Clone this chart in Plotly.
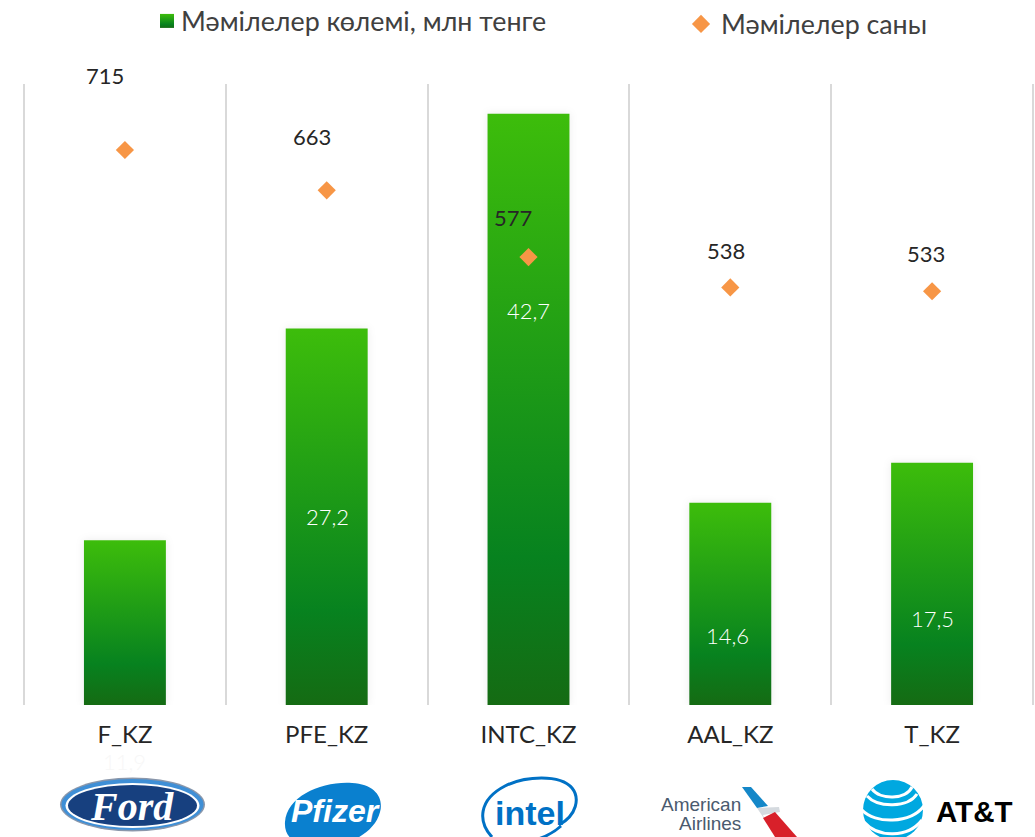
import plotly.graph_objects as go

categories = ["F_KZ", "PFE_KZ", "INTC_KZ", "AAL_KZ", "T_KZ"]
volume = [11.9, 27.2, 42.7, 14.6, 17.5]
deals = [715, 663, 577, 538, 533]
volume_labels = ["11,9", "27,2", "42,7", "14,6", "17,5"]
volume_label_px = [761, 516, 310, 635, 618]
volume_label_dx = [0, 1, 0, -3, 0]
deal_label_shift = [(-20, 74), (-15, 54), (-16, 40), (-4, 37), (-6, 38)]

W, H = 1035, 837
L, R, T, B = 22, 0, 84, 132
PW, PH = W - L - R, H - T - B
FONT = "Lato, 'Noto Sans', sans-serif"
TXT = "#262626"


def px(x):
    return (x - L) / PW


def py(y):
    return (H - B - y) / PH


def path(s):
    out = []
    for tok in s.split():
        if tok[0].isalpha():
            out.append(tok)
        else:
            a, b = tok.split(",")
            out.append(f"{px(float(a)):.5f},{py(float(b)):.5f}")
    return " ".join(out)


def shape_path(s, fill=None, line=None, w=0):
    return dict(type="path", xref="paper", yref="paper", path=path(s), fillcolor=fill or "rgba(0,0,0,0)",
                line=dict(color=line or "rgba(0,0,0,0)", width=w), layer="above")


def ellipse(cx, cy, rx, ry, fill=None, line=None, w=0):
    return dict(type="circle", xref="paper", yref="paper", x0=px(cx - rx), x1=px(cx + rx), y0=py(cy + ry), y1=py(cy - ry),
                fillcolor=fill or "rgba(0,0,0,0)", line=dict(color=line or "rgba(0,0,0,0)", width=w), layer="above")


def text_px(x, y, s, size, color, family=FONT, bold=False, italic=False, anchor="center"):
    t = s
    if bold:
        t = f"<b>{t}</b>"
    if italic:
        t = f"<i>{t}</i>"
    return dict(xref="paper", yref="paper", x=px(x), y=py(y), text=t, showarrow=False, xanchor=anchor, yanchor="middle",
                font=dict(size=size, color=color, family=family), align="left")


fig = go.Figure()
fig.add_bar(x=categories, y=volume, name="Мәмілелер көлемі, млн тенге", marker=dict(color="#2a9d12", line_width=0), yaxis="y", hoverinfo="skip", legend="legend", showlegend=True)
fig.add_scatter(x=categories, y=deals, name="Мәмілелер саны", mode="markers", yaxis="y2", hoverinfo="skip", legend="legend2", showlegend=True,
                marker=dict(symbol="diamond", size=14, color="#f79646"))

ann = []
for c, v, s, dx in zip(categories, volume_labels, volume_label_px, volume_label_dx):
    col = "#f7f7f7" if c == "F_KZ" else "#ffffff"
    ann.append(dict(xref="x", yref="paper", x=c, y=py(s), xshift=dx, text=v, showarrow=False, yanchor="middle",
                    font=dict(size=22, color=col, family="Lato Light, Lato, sans-serif")))
for c, v, (dx, dy) in zip(categories, deals, deal_label_shift):
    ann.append(dict(xref="x", yref="y2", x=c, y=v, xshift=dx, yshift=dy, text=str(v), showarrow=False, yanchor="middle",
                    font=dict(size=22, color=TXT, family=FONT)))

shapes = []
# Ford logo
shapes += [ellipse(132.5, 804.5, 72.5, 27, "#8a97ab"), ellipse(132.5, 804.5, 71, 25.5, "#3f8fd6"),
           ellipse(132.5, 805.5, 67, 22.5, "#ffffff"), ellipse(132.5, 805.5, 64.5, 20.5, "#17407f")]
ann.append(text_px(132, 806, "Ford", 40, "#ffffff", "Liberation Serif", True, True))
# Pfizer logo
shapes.append(shape_path("M 285,822 C 287,796 322,781 352,783 C 375,784 384,798 380,812 C 374,836 340,850 312,847 C 294,845 284,836 285,822 Z", "#0a80cf"))
ann.append(text_px(335, 811, "Pfizer", 32, "#ffffff", "Liberation Sans", True, True))
# Intel logo
shapes.append(shape_path("M 492,837 C 478,822 478,800 505,786 C 525,776 560,774 572,788 C 580,798 577,815 559,825", None, "#0071c5", 3))
shapes.append(shape_path("M 514,845 C 530,842 548,838 561,826", None, "#0071c5", 3))
ann.append(text_px(530, 813, "intel", 34, "#0071c5", "Liberation Sans", True))
# American Airlines logo
ann.append(text_px(743, 804, "American", 19, "#4a5a6e", "Liberation Sans", False, False, "right"))
ann.append(text_px(743, 823, "Airlines", 19, "#4a5a6e", "Liberation Sans", False, False, "right"))
shapes.append(shape_path("M 742,787 L 751,787 L 768,806 L 757,808 Z", "#1487c8"))
shapes.append(shape_path("M 757,808 L 779,807 L 780,812 L 763,815 L 765,820 Z", "#d5dadf"))
shapes.append(shape_path("M 763,818 L 775,812 L 797,837 L 775,837 Z", "#d8202a"))
# AT&T logo
shapes.append(ellipse(893, 810, 30, 30, "#00a8e0"))
for s in ["M 867,796 C 878,808 908,808 917,794", "M 862,810 C 875,824 910,824 924,806",
          "M 864,822 C 878,838 908,838 922,820", "M 872,789 C 880,800 906,800 912,787"]:
    shapes.append(shape_path(s, None, "#ffffff", 3))
ann.append(text_px(934, 811, "AT&amp;T", 29.5, "#000000", "Liberation Sans", True, False, "left"))

legend_common = dict(orientation="h", xanchor="left", yanchor="top", bgcolor="rgba(0,0,0,0)", itemwidth=30,
                     font=dict(size=26.8, color="#404040", family=FONT))
fig.update_layout(
    width=W, height=H, autosize=False, margin=dict(l=L, r=R, t=T, b=B, pad=0), showlegend=True,
    paper_bgcolor="white", plot_bgcolor="white", bargap=0.594,
    font=dict(family=FONT, color=TXT, size=25),
    xaxis=dict(type="category", categoryorder="array", categoryarray=categories, range=[-0.51, 4.51], tickson="boundaries",
               showgrid=True, gridcolor="#d9d9d9", gridwidth=1.5, showline=False, ticks="", zeroline=False,
               tickfont=dict(size=24, color=TXT, family=FONT), ticklabelstandoff=13),
    yaxis=dict(range=[0, 44.85], visible=False, showgrid=False, zeroline=False),
    yaxis2=dict(range=[0, 800], overlaying="y", side="right", visible=False, showgrid=False, zeroline=False),
    legend=dict(x=px(147), y=py(0), **legend_common),
    legend2=dict(x=px(681), y=py(0), **legend_common),
    annotations=ann, shapes=shapes,
)

post = """
document.body.style.margin='0';
document.documentElement.style.overflow='hidden';
var css=document.createElement('style');
css.textContent='.legend2 .legendtext{transform:translate(0px,-3px) !important;}';
document.head.appendChild(css);
var gd=document.querySelector('.plotly-graph-div');
var svg=gd.querySelector('svg.main-svg');
var ns='http://www.w3.org/2000/svg';
var defs=svg.querySelector('defs')||svg.insertBefore(document.createElementNS(ns,'defs'),svg.firstChild);
var g=document.createElementNS(ns,'linearGradient');
g.setAttribute('id','barGrad');g.setAttribute('x1','0');g.setAttribute('y1','0');g.setAttribute('x2','0');g.setAttribute('y2','1');
[['0','#3dbd0b'],['0.75','#07821f'],['1','#156b13']].forEach(function(s){var t=document.createElementNS(ns,'stop');t.setAttribute('offset',s[0]);t.setAttribute('stop-color',s[1]);g.appendChild(t);});
defs.appendChild(g);
function polish(){
  gd.querySelectorAll('.barlayer .point path').forEach(function(p){p.style.fill='url(#barGrad)';p.style.filter='drop-shadow(0 0 4px rgba(0,0,0,0.08))';});
  gd.querySelectorAll('.infolayer .traces').forEach(function(tr){
    var t=tr.querySelector('.legendtext');var sym=tr.querySelector('.legendsymbols');
    if(!t||!sym){return;}
    var second=t.textContent.indexOf('саны')>=0;
    if(second){
      sym.querySelectorAll('path').forEach(function(p){p.setAttribute('d','M15.5,-1L8,6.5L0.5,-1L8,-8.5Z');});
    }else{
      t.style.transform='translate(-6px,-3px)';
      sym.style.transform='translate(0px,-3px)';
      sym.querySelectorAll('path').forEach(function(p){p.style.fill='url(#barGrad)';p.setAttribute('d','M7,7H-7V-7H7Z');});
    }
  });
}
polish();
[50,200,500,1000].forEach(function(ms){setTimeout(polish,ms);});
"""
fig.write_html("out.html", post_script=post, config={"displayModeBar": False})
